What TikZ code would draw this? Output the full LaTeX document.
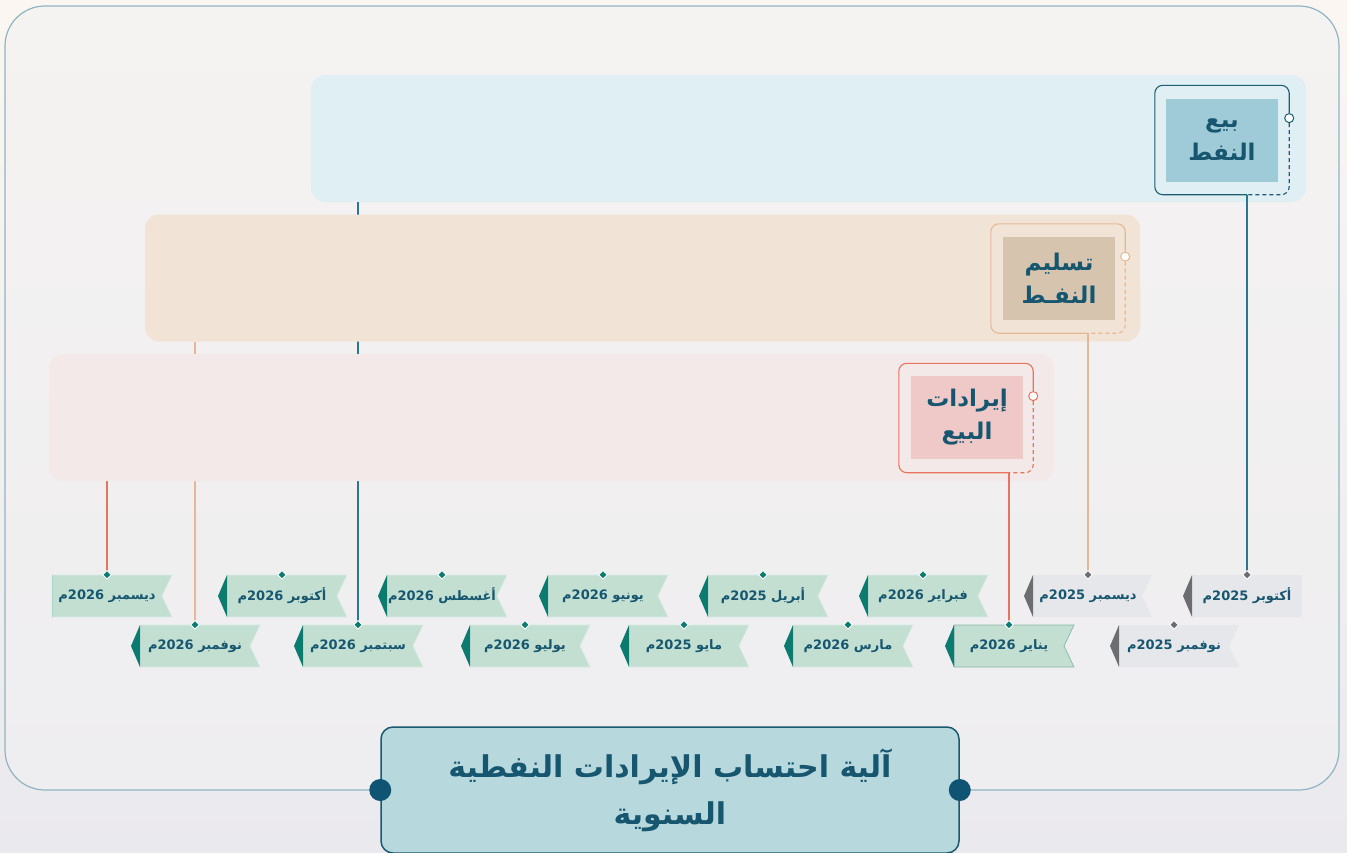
\documentclass[tikz,border=0pt]{standalone}
\usepackage{fontspec}
\usepackage{tikz}
\usetikzlibrary{calc}
\usetikzlibrary{positioning}
\newfontfamily\arabicfont[Script=Arabic]{DejaVu Sans}
\TeXXeTstate=1

\definecolor{ink}{HTML}{17566F}
\definecolor{bgTop}{HTML}{FBF6F1}
\definecolor{bgBottom}{HTML}{EAE9EE}
\definecolor{frameTop}{HTML}{F5F3F1}
\definecolor{frameBottom}{HTML}{EEEDF0}
\definecolor{frameLine}{HTML}{8FB5C2}
\definecolor{skyBand}{HTML}{DFEFF3}
\definecolor{skyBox}{HTML}{9FCAD7}
\definecolor{skyLine}{HTML}{1F5D73}
\definecolor{skyWire}{HTML}{2C7590}
\definecolor{sandBand}{HTML}{F1E4D6}
\definecolor{sandBox}{HTML}{D6C4AF}
\definecolor{sandLine}{HTML}{E4B896}
\definecolor{roseBand}{HTML}{F3E9E9}
\definecolor{roseBox}{HTML}{EFC9C7}
\definecolor{roseLine}{HTML}{E8745F}
\definecolor{greyBody}{HTML}{E6E7EA}
\definecolor{greyTip}{HTML}{6C6D71}
\definecolor{greenBody}{HTML}{C2DFD2}
\definecolor{greenEdge}{HTML}{D8ECE3}
\definecolor{pickEdge}{HTML}{86B8AA}
\definecolor{greenTip}{HTML}{0C7B6F}
\definecolor{titleFill}{HTML}{B7D9DE}
\definecolor{titleLine}{HTML}{1A5870}
\definecolor{pinFill}{HTML}{0F5472}

\tikzset{
  monthlabel/.style={minimum width=110pt,minimum height=42pt,inner sep=0pt,text=ink,font=\arabicfont\bfseries\fontsize{13}{15}\selectfont},
  greytag/.style={monthbody/.style={fill=greyBody},monthtip/.style={fill=greyTip},monthdot/.style={fill=greyTip}},
  greentag/.style={monthbody/.style={fill=greenBody,draw=greenEdge,line width=0.7pt},monthtip/.style={fill=greenTip},monthdot/.style={fill=greenTip}},
  picktag/.style={monthbody/.style={fill=greenBody,draw=pickEdge,line width=0.7pt},monthtip/.style={fill=greenTip},monthdot/.style={fill=greenTip}},
  dot/.style={draw=white,line width=0.8pt,rotate=45,minimum size=6pt,inner sep=0pt},
  band/.style={rounded corners=14pt,minimum height=127pt,inner sep=0pt},
  label box/.style={minimum width=112pt,minimum height=83pt,inner sep=0pt,align=center,text=ink,font=\arabicfont\bfseries\fontsize{23}{33}\selectfont},
  frame box/.style={minimum width=134pt,minimum height=109pt,inner sep=0pt},
  ring/.style={circle,fill=white,line width=1pt,minimum size=9pt,inner sep=0pt},
  wire/.style={line width=1.2pt},
  boxdash/.style={dash pattern=on 4pt off 3pt},
  title box/.style={draw=titleLine,fill=titleFill,line width=1.5pt,rounded corners=12pt,minimum width=578pt,minimum height=126pt,align=center,text=ink,font=\arabicfont\bfseries\fontsize{30}{47}\selectfont},
  pin/.style={circle,fill=pinFill,minimum size=22pt,inner sep=0pt}
}

\begin{document}
\begin{tikzpicture}[x=1pt,y=-1pt]
\useasboundingbox (0,0) rectangle (1347,852);
\shade[top color=bgTop,bottom color=bgBottom] (0,0) rectangle (1347,852);
\shadedraw[top color=frameTop,bottom color=frameBottom,draw=frameLine,line width=1.2pt,rounded corners=40pt] (5,6) rectangle (1339,790);

% month tags
\foreach \nm/\b/\y/\w/\nd/\td/\kind/\mon/\yr in {
  oct25/1192/575/110/0/9/greytag/أكتوبر/2025,
  dec25/1033/575/119/10/9/greytag/ديسمبر/2025,
  feb26/868/575/120/10/9/greentag/فبراير/2026,
  apr25/708/575/120/10/9/greentag/أبريل/2025,
  jun26/548/575/120/10/9/greentag/يونيو/2026,
  aug26/387/575/120/10/9/greentag/أغسطس/2026,
  oct26/227/575/120/10/9/greentag/أكتوبر/2026,
  dec26/52/575/120/10/0/greentag/ديسمبر/2026,
  nov25/1119/625/120/10/9/greytag/نوفمبر/2025,
  jan26/954/625/120/10/9/picktag/يناير/2026,
  mar26/793/625/120/10/9/greentag/مارس/2026,
  may25/629/625/120/10/9/greentag/مايو/2025,
  jul26/470/625/120/10/9/greentag/يوليو/2026,
  sep26/303/625/120/10/9/greentag/سبتمبر/2026,
  nov26/140/625/120/10/9/greentag/نوفمبر/2026}{
  \begin{scope}[\kind]
  \fill[monthbody] (\b,\y) -- (\b+\w,\y) -- (\b+\w-\nd,\y+21) -- (\b+\w,\y+42) -- (\b,\y+42) -- cycle;
  \fill[monthtip] (\b,\y) -- (\b-\td,\y+21) -- (\b,\y+42) -- cycle;
  \node[monthlabel] (\nm) at (\b+55,\y+21) {\beginR\mon\ \beginL\yr\endL م\endR};
  \end{scope}
}

% bands, each one over the wire of the band above
\node[band,fill=skyBand,minimum width=995pt] (sale band) at (808.5,138.5) {};
\draw[wire,skyWire] (sep26.north |- sale band.south) -- (sep26.north);
\node[band,fill=sandBand,minimum width=995pt] (delivery band) at (642.5,278) {};
\draw[wire,sandLine] (nov26.north |- delivery band.south) -- (nov26.north);
\node[band,fill=roseBand,minimum width=1005pt] (revenue band) at (551.5,417.5) {};
\draw[wire,roseLine] (dec26.north |- revenue band.south) -- (dec26.north);

% band labels
\node[label box,fill=skyBox] (sale) at (1222,140) {\beginR بيع\endR\\\beginR النفط\endR};
\node[frame box] (sale frame) at (sale) {};
\node[ring,draw=skyLine] (sale ring) at ($(sale frame.north east)!0.3!(sale frame.south east)$) {};
\draw[skyLine,line width=1.1pt,rounded corners=8pt] (sale ring.north) -- (sale frame.north east) -- (sale frame.north west) -- (sale frame.south west) -- (oct25.north |- sale frame.south);
\draw[skyLine,line width=1.1pt,boxdash,rounded corners=8pt] (sale ring.south) -- (sale frame.south east) -- (oct25.north |- sale frame.south);
\draw[wire,skyWire] (oct25.north |- sale frame.south) -- (oct25.north);

\node[label box,fill=sandBox] (delivery) at (1059,278) {\beginR تسليم\endR\\\beginR النفـط\endR};
\node[frame box] (delivery frame) at (1058,278.5) {};
\node[ring,draw=sandLine] (delivery ring) at ($(delivery frame.north east)!0.3!(delivery frame.south east)$) {};
\draw[sandLine,line width=1.1pt,rounded corners=8pt] (delivery ring.north) -- (delivery frame.north east) -- (delivery frame.north west) -- (delivery frame.south west) -- (dec25.north |- delivery frame.south);
\draw[sandLine,line width=1.1pt,boxdash,rounded corners=8pt] (delivery ring.south) -- (delivery frame.south east) -- (dec25.north |- delivery frame.south);
\draw[wire,sandLine] (dec25.north |- delivery frame.south) -- (dec25.north);

\node[label box,fill=roseBox] (revenue) at (967,417) {\beginR إيرادات\endR\\\beginR البيع\endR};
\node[frame box] (revenue frame) at (966,418) {};
\node[ring,draw=roseLine] (revenue ring) at ($(revenue frame.north east)!0.3!(revenue frame.south east)$) {};
\draw[roseLine,line width=1.1pt,rounded corners=8pt] (revenue ring.north) -- (revenue frame.north east) -- (revenue frame.north west) -- (revenue frame.south west) -- (jan26.north |- revenue frame.south);
\draw[roseLine,line width=1.1pt,boxdash,rounded corners=8pt] (revenue ring.south) -- (revenue frame.south east) -- (jan26.north |- revenue frame.south);
\draw[wire,roseLine] (jan26.north |- revenue frame.south) -- (jan26.north);

% diamonds on the tags
\foreach \nm/\kind in {oct25/greytag,dec25/greytag,nov25/greytag,feb26/greentag,apr25/greentag,jun26/greentag,aug26/greentag,oct26/greentag,dec26/greentag,jan26/picktag,mar26/greentag,may25/greentag,jul26/greentag,sep26/greentag,nov26/greentag}
  \node[\kind,dot,monthdot] at (\nm.north) {};

% title
\node[title box] (title) at (670,790) {\beginR آلية احتساب الإيرادات النفطية\endR\\\beginR السنوية\endR};
\node[pin] (left pin) at (title.west) {};
\node[pin] (right pin) at (title.east) {};
\end{tikzpicture}
\end{document}
